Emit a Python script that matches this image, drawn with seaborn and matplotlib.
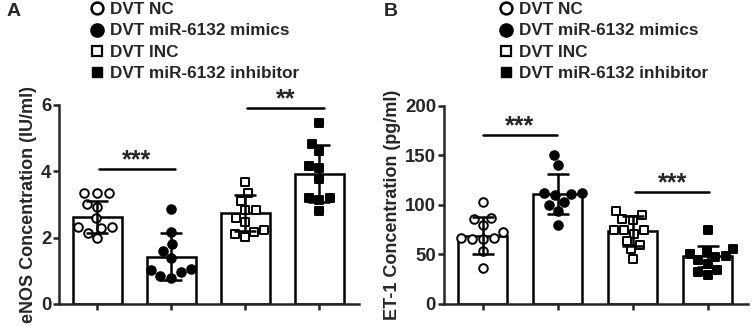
import numpy as np
import pandas as pd
import seaborn as sns
import matplotlib.pyplot as plt
from matplotlib.lines import Line2D

groups = ["DVT NC", "DVT miR-6132 mimics", "DVT INC", "DVT miR-6132 inhibitor"]

# panel A: eNOS (IU/ml)
enos_mean = [2.62, 1.43, 2.74, 3.93]
enos_sd = [0.47, 0.70, 0.55, 0.87]
enos_nc = [3.33, 3.33, 3.33, 3.02, 2.92, 2.58, 2.32, 2.32, 2.30, 2.15, 2.00]
enos_mimics = [2.85, 2.18, 1.80, 1.61, 1.39, 1.05, 1.02, 0.95, 0.84, 0.79]
enos_inc = [3.66, 3.33, 3.10, 2.82, 2.82, 2.58, 2.46, 2.24, 2.18, 2.12, 2.02]
enos_inhib = [5.46, 4.83, 4.60, 4.17, 4.09, 3.76, 3.18, 3.18, 3.13, 2.80]

# panel B: ET-1 (pg/ml)
et1_mean = [69, 111, 74, 48]
et1_sd = [19, 20, 15, 11]
et1_nc = [103, 87, 86, 80, 73, 67, 67, 66, 66, 53, 36]
et1_mimics = [150, 140, 112, 112, 111, 110, 103, 100, 94, 80]
et1_inc = [94, 90, 86, 85, 75, 75, 75, 71, 64, 60, 55, 45]
et1_inhib = [75, 55, 53, 50, 48, 47, 44, 40, 34, 32, 29]

markers = ["o", "o", "s", "s"]
faces = ["white", "black", "white", "black"]

sns.set_theme(style="ticks")
plt.rcParams["font.family"] = ["Liberation Sans", "DejaVu Sans"]
plt.rcParams["font.weight"] = "bold"
plt.rcParams["axes.labelweight"] = "bold"

LW = 1.8


def panel(ax, means, sds, points, yticks, ylabel, sig):
    df = pd.DataFrame({"group": groups, "value": means})
    sns.barplot(data=df, x="group", y="value", order=groups, width=0.66,
                color="white", edgecolor="black", linewidth=LW, ax=ax)
    for g, vals, m, fc in zip(groups, points, markers, faces):
        pts = pd.DataFrame({"group": g, "value": vals})
        sns.swarmplot(data=pts, x="group", y="value", order=groups, marker=m,
                      color=fc, edgecolor="black", linewidth=1.4,
                      size=6.2 if m == "o" else 5.8, ax=ax, zorder=3)
    ax.errorbar(np.arange(len(groups)), means, yerr=sds, fmt="none",
                ecolor="black", elinewidth=LW, capsize=8, capthick=LW, zorder=4)
    for x0, x1, y, txt, ty in sig:
        ax.plot([x0, x1], [y, y], color="black", lw=LW, clip_on=False)
        ax.text((x0 + x1) / 2, ty, txt, ha="center", va="center",
                fontsize=18, fontweight="bold")
    ax.set_ylim(yticks[0], yticks[-1])
    ax.set_yticks(yticks)
    ax.set_xlim(-0.52, 3.54)
    ax.set_xticks(range(4))
    ax.set_xticklabels([])
    ax.set_xlabel("")
    ax.set_ylabel(ylabel, fontsize=13, fontweight="bold", labelpad=3)
    ax.tick_params(width=LW, length=4.5, labelsize=13.4, pad=1)
    for t in ax.get_yticklabels():
        t.set_fontweight("bold")
    sns.despine(ax=ax)
    for s in ["left", "bottom"]:
        ax.spines[s].set_linewidth(LW)


fig = plt.figure(figsize=(7.52, 3.26), dpi=100)
axA = fig.add_axes([0.0785, 0.0675, 0.399, 0.611])
axB = fig.add_axes([0.590, 0.0675, 0.405, 0.608])

panel(axA, enos_mean, enos_sd, [enos_nc, enos_mimics, enos_inc, enos_inhib],
      [0, 2, 4, 6], "eNOS Concentration (IU/ml)",
      [(0.02, 1.05, 4.07, "***", 4.33), (2.03, 3.06, 5.9, "**", 6.16)])
panel(axB, et1_mean, et1_sd, [et1_nc, et1_mimics, et1_inc, et1_inhib],
      [0, 50, 100, 150, 200], "ET-1 Concentration (pg/ml)",
      [(0.0, 0.99, 170.7, "***", 179), (2.03, 3.02, 113.5, "***", 122)])

for ax, lx, tx, px in [(axA, 97, "A", 14), (axB, 506, "B", 391)]:
    fig.text(px / 752, 1 - 12 / 326, tx,
             fontsize=14, fontweight="bold", ha="center", va="center")
    handles = [
        Line2D([], [], ls="none", marker="o", ms=8.5, mfc="white", mec="black", mew=1.8),
        Line2D([], [], ls="none", marker="o", ms=9.5, mfc="black", mec="black"),
        Line2D([], [], ls="none", marker="s", ms=6.5, mfc="white", mec="black", mew=1.6),
        Line2D([], [], ls="none", marker="s", ms=7.5, mfc="black", mec="black"),
    ]
    fig.legend(handles, groups, loc="upper left",
               bbox_to_anchor=((lx - 7) / 752, 1 - 2 / 326), frameon=False,
               prop={"weight": "bold", "size": 12.3},
               handlelength=0.8, handletextpad=0.35, labelspacing=0.38,
               borderaxespad=0, borderpad=0)

fig.savefig("out.png", dpi=100)
